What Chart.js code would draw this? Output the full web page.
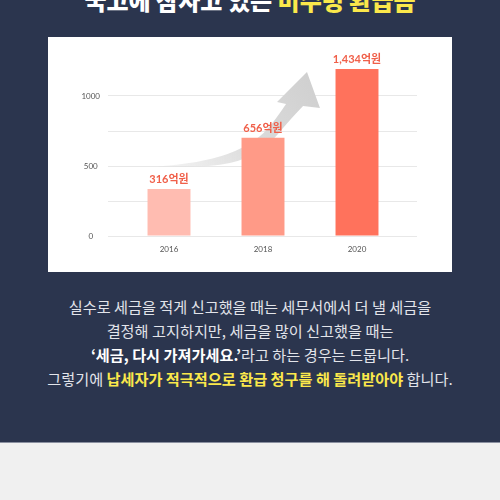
<!DOCTYPE html>
<html><head><meta charset="utf-8">
<script src="https://cdn.jsdelivr.net/npm/chart.js@4"></script>
<style>
html,body{margin:0;padding:0;width:500px;height:500px;overflow:hidden;background:#f0f0f0;font-family:"Noto Sans CJK KR","Noto Sans",sans-serif;}
#top{position:absolute;left:0;top:0;width:500px;height:442px;background:#2b354e;border-bottom:1px solid #8a90a0;}
#title{position:absolute;left:0;width:500px;top:-12px;text-align:center;font-size:24px;line-height:24px;font-weight:900;color:#fff;white-space:nowrap;}
#title span{color:#fbe84b;}
#panel{position:absolute;left:48px;top:37px;width:404px;height:235px;background:#fff;}
#desc{position:absolute;left:0;width:500px;top:294px;text-align:center;font-size:15.2px;line-height:24px;color:#e2e4ea;white-space:nowrap;}
#desc b{color:#fff;font-weight:700;}
#desc .y{color:#fbe84b;font-weight:700;}
</style></head>
<body>
<div id="top">
  <div id="title">국고에 잠자고 있는 <span>미수령 환급금</span></div>
  <div id="panel"><canvas id="c" width="404" height="235"></canvas></div>
  <div id="desc">실수로 세금을 적게 신고했을 때는 세무서에서 더 낼 세금을<br>결정해 고지하지만, 세금을 많이 신고했을 때는<br><b>‘세금, 다시 가져가세요.’</b>라고 하는 경우는 드뭅니다.<br>그렇기에 <span class="y">납세자가 적극적으로 환급 청구를 해 돌려받아야</span> 합니다.</div>
</div>
<script>
const categories = ['2016', '2018', '2020'];
const barValues = [336, 702, 1193];
const valueLabels = ['316억원', '656억원', '1,434억원'];
const yTickLabels = [0, 500, 1000];

const gridColor = ctx => (ctx.tick && ctx.tick.value > 1000) ? 'rgba(0,0,0,0)' : '#e8e8e8';

const arrowPlugin = {
  id: 'arrow',
  beforeDatasetsDraw(chart) {
    const xs = chart.scales.x, ys = chart.scales.y, c = chart.ctx;
    const P = (i, v) => [xs.getPixelForValue(i), ys.getPixelForValue(v)];
    const lower = [[-0.117,493],[0.33,489],[0.755,529],[1.053,643],[1.266,814],[1.426,929]].map(p=>P(p[0],p[1]));
    const head = [[1.606,914],[1.468,1171],[1.149,957]].map(p=>P(p[0],p[1]));
    const upper = [[1.245,943],[1.096,793],[0.915,679],[0.649,586],[0.277,521],[-0.117,496]].map(p=>P(p[0],p[1]));
    const smooth = (pts, first) => {
      if (first) c.moveTo(pts[0][0], pts[0][1]); else c.lineTo(pts[0][0], pts[0][1]);
      for (let k = 1; k < pts.length - 1; k++) {
        const mx = (pts[k][0] + pts[k+1][0]) / 2, my = (pts[k][1] + pts[k+1][1]) / 2;
        c.quadraticCurveTo(pts[k][0], pts[k][1], mx, my);
      }
      const l = pts[pts.length-1]; c.lineTo(l[0], l[1]);
    };
    c.save();
    const g = c.createLinearGradient(lower[0][0], lower[0][1], head[1][0], head[1][1]);
    g.addColorStop(0, 'rgba(225,225,225,0.35)');
    g.addColorStop(0.5, '#dcdcdc');
    g.addColorStop(1, '#d0d0d0');
    c.fillStyle = g;
    c.beginPath();
    smooth(lower, true);
    head.forEach(p => c.lineTo(p[0], p[1]));
    smooth(upper, false);
    c.closePath();
    c.fill();
    c.restore();
  }
};

const labelPlugin = {
  id: 'vlabels',
  afterDatasetsDraw(chart) {
    const c = chart.ctx;
    const meta = chart.getDatasetMeta(0);
    c.save();
    c.font = 'bold 11px Lato, "Noto Sans CJK KR"';
    c.fillStyle = '#f0604a';
    c.textAlign = 'center';
    c.textBaseline = 'bottom';
    meta.data.forEach((bar, i) => {
      c.fillText(valueLabels[i], bar.x, bar.y - 4);
    });
    c.restore();
  }
};

new Chart(document.getElementById('c'), {
  type: 'bar',
  data: {
    labels: categories,
    datasets: [{
      data: barValues,
      backgroundColor: ['#ffbcb1', '#ff9a87', '#ff725c'],
      borderWidth: 0,
      barPercentage: 0.457,
      categoryPercentage: 1
    }]
  },
  options: {
    responsive: false,
    animation: false,
    layout: { padding: { top: 24, right: 35, bottom: 10, left: 0 } },
    plugins: { legend: { display: false }, tooltip: { enabled: false } },
    scales: {
      x: {
        grid: { display: false },
        border: { display: false },
        ticks: { font: { family: 'Lato', size: 8 }, color: '#555', padding: 1 },
        afterFit: s => { s.height = 26; }
      },
      y: {
        min: 0, max: 1250,
        ticks: {
          stepSize: 250,
          font: { family: 'Lato', size: 8 }, color: '#555', padding: 8, crossAlign: 'center',
          callback: v => yTickLabels.includes(v) ? String(v) : ''
        },
        grid: { color: gridColor, tickLength: 14 },
        border: { display: false },
        afterFit: s => { s.width = 74; }
      },
      y2: {
        position: 'right',
        min: 0, max: 1250,
        ticks: { stepSize: 250, display: false },
        grid: { color: gridColor, tickLength: 13, drawOnChartArea: false },
        border: { display: false }
      }
    }
  },
  plugins: [arrowPlugin, labelPlugin]
});
</script>
</body></html>
